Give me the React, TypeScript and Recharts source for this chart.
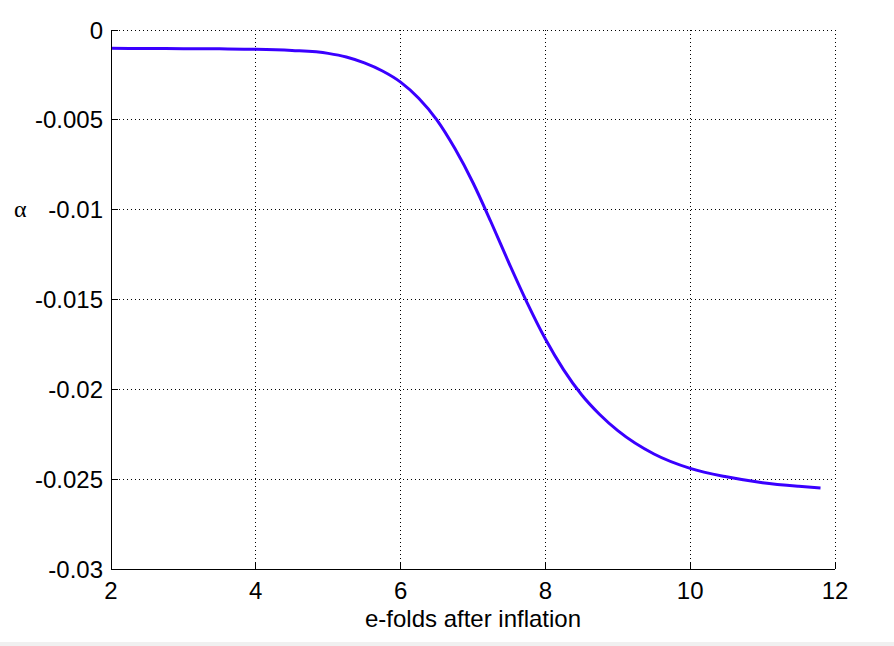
import React from "react";
import {
  LineChart,
  Line,
  XAxis,
  YAxis,
  CartesianGrid,
  Label,
} from "recharts";

// e-folds after inflation (x) and alpha
const EFOLDS = [
  2.0, 2.5, 3.0, 3.5, 4.0, 4.5, 5.0, 5.25, 5.5, 5.75, 6.0, 6.25, 6.5, 6.75,
  7.0, 7.25, 7.5, 7.75, 8.0, 8.25, 8.5, 8.75, 9.0, 9.5, 10.0, 10.5, 11.0,
  11.5, 11.8,
];
const ALPHA = [
  -0.00102, -0.00103, -0.00104, -0.00105, -0.00107, -0.00114, -0.0013,
  -0.0015, -0.00183, -0.00228, -0.0029, -0.0038, -0.005, -0.0066, -0.0085,
  -0.0107, -0.013, -0.0152, -0.0172, -0.0189, -0.0203, -0.0214, -0.0223,
  -0.0236, -0.0244, -0.02487, -0.0252, -0.0254, -0.02549,
];

const X_TICKS = [2, 4, 6, 8, 10, 12];
const Y_TICKS = [-0.03, -0.025, -0.02, -0.015, -0.01, -0.005, 0];

const data = EFOLDS.map((x, i) => ({ x, alpha: ALPHA[i] }));

const FONT = "'Liberation Sans', Arial, Helvetica, sans-serif";
const tickStyle = { fontFamily: FONT, fontSize: 24, fill: "#000" };

// MATLAB-ish tick text: 0, -0.005, -0.01 ...
const fmtY = (v: number) => String(Number(v.toFixed(3)));

export default function App() {
  return (
    <div
      style={{
        position: "absolute",
        left: 0,
        top: 0,
        width: 894,
        height: 646,
        background: "#fff",
        overflow: "hidden",
      }}
    >
      <LineChart
        width={894}
        height={646}
        data={data}
        margin={{ top: 30, right: 59, bottom: 17, left: 0 }}
      >
        <CartesianGrid
          stroke="#000"
          strokeDasharray="1 3"
          strokeWidth={1}
          shapeRendering="crispEdges"
        />
        <XAxis
          dataKey="x"
          type="number"
          domain={[2, 12]}
          ticks={X_TICKS}
          interval={0}
          allowDataOverflow
          height={60}
          tickSize={-7}
          tickMargin={20}
          tick={tickStyle}
          axisLine={{ stroke: "#000", shapeRendering: "crispEdges" }}
          tickLine={{ stroke: "#000", shapeRendering: "crispEdges" }}
        >
          <Label
            value="e-folds after inflation"
            position="insideBottom"
            offset={2}
            style={{ fontFamily: FONT, fontSize: 24, fill: "#000" }}
          />
        </XAxis>
        <XAxis
          xAxisId="top"
          dataKey="x"
          type="number"
          orientation="top"
          domain={[2, 12]}
          ticks={X_TICKS}
          interval={0}
          height={0}
          tickSize={-7}
          tick={false}
          axisLine={{ stroke: "#000", shapeRendering: "crispEdges" }}
          tickLine={{ stroke: "#000", shapeRendering: "crispEdges" }}
        />
        <YAxis
          type="number"
          domain={[-0.03, 0]}
          ticks={Y_TICKS}
          interval={0}
          allowDataOverflow
          width={111}
          tickSize={-7}
          tickMargin={15}
          tick={tickStyle}
          tickFormatter={fmtY}
          axisLine={{ stroke: "#000", shapeRendering: "crispEdges" }}
          tickLine={{ stroke: "#000", shapeRendering: "crispEdges" }}
        >
          <Label
            content={() => (
              <text
                x={14}
                y={217}
                style={{
                  fontFamily: "'Liberation Serif', 'DejaVu Serif', serif",
                  fontSize: 24,
                  fill: "#000",
                }}
              >
                α
              </text>
            )}
          />
        </YAxis>
        <YAxis
          yAxisId="right"
          type="number"
          orientation="right"
          domain={[-0.03, 0]}
          ticks={Y_TICKS}
          interval={0}
          width={0}
          tickSize={-7}
          tick={false}
          axisLine={{ stroke: "#000", shapeRendering: "crispEdges" }}
          tickLine={{ stroke: "#000", shapeRendering: "crispEdges" }}
        />
        <Line
          type="monotone"
          dataKey="alpha"
          stroke="#3a00ff"
          strokeWidth={3}
          dot={false}
          activeDot={false}
          isAnimationActive={false}
        />
      </LineChart>
      <div
        style={{
          position: "absolute",
          left: 0,
          top: 642,
          width: 894,
          height: 4,
          background: "#f0f0f0",
        }}
      />
    </div>
  );
}
